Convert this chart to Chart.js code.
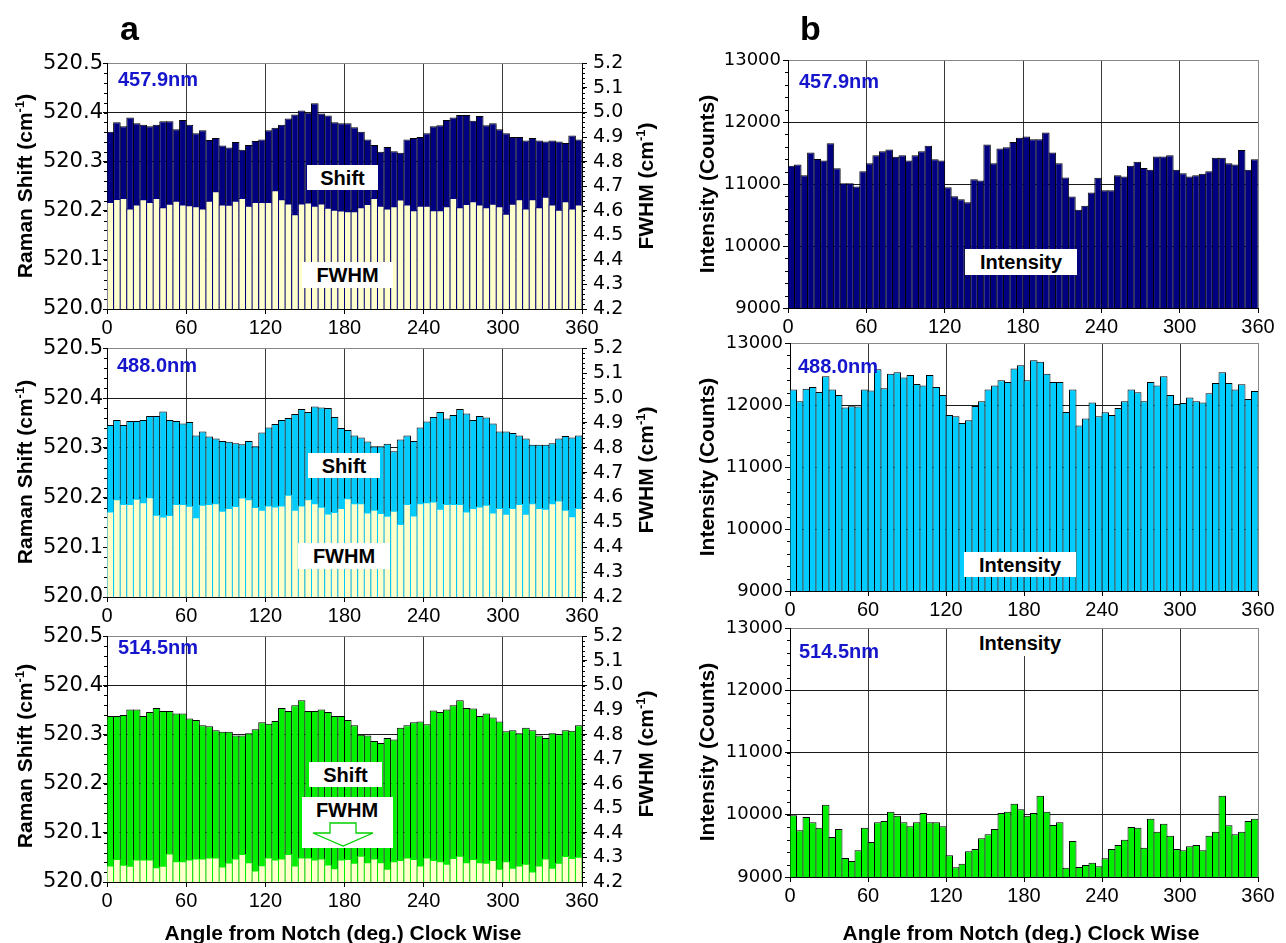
<!DOCTYPE html>
<html>
<head>
<meta charset="utf-8">
<title>Raman shift, FWHM and intensity vs. angle from notch</title>
<script src="https://cdn.jsdelivr.net/npm/chart.js@4/dist/chart.umd.min.js"></script>
<style>
  html, body { margin: 0; padding: 0; background: #fff; }
  #fig { position: relative; width: 1286px; height: 943px; overflow: hidden;
         font-family: "Liberation Sans", Arial, sans-serif; color: #000; }
  .panel { position: absolute; }
  .t { position: absolute; white-space: nowrap; font-weight: bold; line-height: 1; }
  .rot { transform: translate(-50%, -50%) rotate(-90deg); }
  .ctr { transform: translateX(-50%); }
  .box { position: absolute; background: #fff; display: flex; align-items: center;
         justify-content: center; font-weight: bold; font-size: 20px; line-height: 1; }
  .wl { position: absolute; font-weight: bold; font-size: 20px; line-height: 20px; color: #1515cc; white-space: nowrap; }
  sup { font-size: 0.62em; vertical-align: 0.6em; line-height: 0; }
  svg { position: absolute; left: 0; top: 0; pointer-events: none; }
</style>
</head>
<body>
<div id="fig">
  <div class="panel" style="left:0;top:46px;width:690px;height:303px"><canvas id="a1" width="690" height="303"></canvas></div>
  <div class="panel" style="left:0;top:331px;width:690px;height:306px"><canvas id="a2" width="690" height="306"></canvas></div>
  <div class="panel" style="left:0;top:619px;width:690px;height:303px"><canvas id="a3" width="690" height="303"></canvas></div>
  <div class="panel" style="left:680px;top:46px;width:600px;height:302px"><canvas id="b1" width="600" height="302"></canvas></div>
  <div class="panel" style="left:680px;top:329px;width:600px;height:302px"><canvas id="b2" width="600" height="302"></canvas></div>
  <div class="panel" style="left:680px;top:614px;width:600px;height:303px"><canvas id="b3" width="600" height="303"></canvas></div>

  <!-- panel letters -->
  <div class="t" style="left:120px;top:11px;font-size:34px">a</div>
  <div class="t" style="left:800px;top:11px;font-size:34px">b</div>

  <!-- axis titles -->
  <div class="t rot" style="left:24px;top:186px;font-size:21px">Raman Shift (cm<sup>-1</sup>)</div>
  <div class="t rot" style="left:24px;top:472px;font-size:21px">Raman Shift (cm<sup>-1</sup>)</div>
  <div class="t rot" style="left:24px;top:756px;font-size:21px">Raman Shift (cm<sup>-1</sup>)</div>
  <div class="t rot" style="left:645px;top:186px;font-size:21px">FWHM (cm<sup>-1</sup>)</div>
  <div class="t rot" style="left:645px;top:470px;font-size:21px">FWHM (cm<sup>-1</sup>)</div>
  <div class="t rot" style="left:645px;top:754px;font-size:21px">FWHM (cm<sup>-1</sup>)</div>
  <div class="t rot" style="left:706px;top:184px;font-size:21px">Intensity (Counts)</div>
  <div class="t rot" style="left:706px;top:467px;font-size:21px">Intensity (Counts)</div>
  <div class="t rot" style="left:706px;top:752px;font-size:21px">Intensity (Counts)</div>
  <div class="t ctr" style="left:343px;top:922px;font-size:21px">Angle from Notch (deg.) Clock Wise</div>
  <div class="t ctr" style="left:1021px;top:922px;font-size:21px">Angle from Notch (deg.) Clock Wise</div>

  <!-- wavelength tags -->
  <div class="wl" style="left:118px;top:69px">457.9nm</div>
  <div class="wl" style="left:117px;top:355px">488.0nm</div>
  <div class="wl" style="left:118px;top:637px">514.5nm</div>
  <div class="wl" style="left:799px;top:71px">457.9nm</div>
  <div class="wl" style="left:798px;top:356px">488.0nm</div>
  <div class="wl" style="left:799px;top:641px">514.5nm</div>

  <!-- series tags -->
  <div class="box" style="left:307px;top:165px;width:71px;height:25px">Shift</div>
  <div class="box" style="left:302px;top:262px;width:91px;height:26px">FWHM</div>
  <div class="box" style="left:308px;top:453px;width:72px;height:25px">Shift</div>
  <div class="box" style="left:298px;top:543px;width:92px;height:26px">FWHM</div>
  <div class="box" style="left:309px;top:762px;width:73px;height:25px">Shift</div>
  <div class="box" style="left:302px;top:797px;width:91px;height:51px"></div>
  <div class="t ctr" style="left:347px;top:800px;font-size:20px">FWHM</div>
  <div class="box" style="left:965px;top:249px;width:112px;height:26px">Intensity</div>
  <div class="box" style="left:964px;top:552px;width:112px;height:25px">Intensity</div>
  <div class="box" style="left:963px;top:629px;width:114px;height:27px">Intensity</div>

  <svg width="1286" height="943" viewBox="0 0 1286 943">
    <polygon points="330,823 356,823 356,833 373,833 343,846 313,833 330,833"
             fill="#fff" stroke="#00d000" stroke-width="1.3"/>
  </svg>
</div>

<script>
// Bin centres of the 5-degree angular steps round the wafer notch
const angles = Array.from({ length: 72 }, (_, i) => 2.5 + 5 * i);
const angleTicks = [0, 60, 120, 180, 240, 300, 360];
const shiftTicks = [520.0, 520.1, 520.2, 520.3, 520.4, 520.5];
const fwhmTicks = [4.2, 4.3, 4.4, 4.5, 4.6, 4.7, 4.8, 4.9, 5.0, 5.1, 5.2];
const intensityTicks = [9000, 10000, 11000, 12000, 13000];

// Raman shift (cm-1) at 457.9 nm
const shift457 = [520.361, 520.380, 520.372, 520.390, 520.378, 520.375, 520.372, 520.375, 520.382, 520.382, 520.366, 520.385,
  520.375, 520.358, 520.364, 520.344, 520.348, 520.333, 520.329, 520.340, 520.324, 520.334, 520.342, 520.345,
  520.364, 520.369, 520.375, 520.388, 520.396, 520.404, 520.400, 520.419, 520.398, 520.394, 520.380, 520.378,
  520.378, 520.370, 520.361, 520.345, 520.334, 520.320, 520.330, 520.321, 520.318, 520.345, 520.348, 520.350,
  520.358, 520.372, 520.374, 520.385, 520.390, 520.395, 520.395, 520.383, 520.393, 520.374, 520.378, 520.366,
  520.358, 520.350, 520.350, 520.343, 520.348, 520.343, 520.341, 520.343, 520.341, 520.338, 520.353, 520.345];
// FWHM (cm-1) at 457.9 nm
const fwhm457 = [4.636, 4.648, 4.652, 4.609, 4.625, 4.647, 4.636, 4.652, 4.614, 4.629, 4.641, 4.625,
  4.622, 4.618, 4.609, 4.641, 4.679, 4.625, 4.624, 4.641, 4.652, 4.620, 4.636, 4.636,
  4.636, 4.684, 4.647, 4.630, 4.586, 4.630, 4.634, 4.620, 4.630, 4.612, 4.604, 4.601,
  4.598, 4.598, 4.614, 4.628, 4.652, 4.620, 4.609, 4.618, 4.646, 4.625, 4.602, 4.620,
  4.620, 4.602, 4.602, 4.618, 4.652, 4.614, 4.628, 4.639, 4.625, 4.614, 4.629, 4.618,
  4.588, 4.629, 4.647, 4.609, 4.647, 4.614, 4.657, 4.625, 4.604, 4.639, 4.609, 4.625];

// Raman shift (cm-1) at 488.0 nm
const shift488 = [520.346, 520.356, 520.346, 520.354, 520.354, 520.356, 520.364, 520.364, 520.373, 520.356, 520.354, 520.349,
  520.352, 520.325, 520.333, 520.323, 520.319, 520.314, 520.312, 520.309, 520.307, 520.314, 520.303, 520.331,
  520.341, 520.348, 520.356, 520.360, 520.368, 520.378, 520.372, 520.383, 520.381, 520.380, 520.362, 520.340,
  520.336, 520.325, 520.321, 520.313, 520.303, 520.303, 520.308, 520.293, 520.317, 520.325, 520.314, 520.341,
  520.353, 520.362, 520.372, 520.359, 520.366, 520.378, 520.369, 520.356, 520.364, 520.361, 520.349, 520.333,
  520.333, 520.330, 520.325, 520.319, 520.306, 520.306, 520.306, 520.309, 520.319, 520.324, 520.321, 520.325];
// FWHM (cm-1) at 488.0 nm
const fwhm488 = [4.544, 4.593, 4.574, 4.574, 4.595, 4.581, 4.601, 4.531, 4.524, 4.530, 4.574, 4.574,
  4.567, 4.521, 4.571, 4.574, 4.577, 4.547, 4.558, 4.566, 4.600, 4.593, 4.562, 4.551,
  4.568, 4.564, 4.568, 4.611, 4.551, 4.568, 4.593, 4.577, 4.563, 4.536, 4.542, 4.558,
  4.597, 4.577, 4.577, 4.540, 4.551, 4.538, 4.527, 4.547, 4.494, 4.574, 4.528, 4.577,
  4.581, 4.584, 4.555, 4.574, 4.574, 4.574, 4.544, 4.558, 4.564, 4.571, 4.540, 4.558,
  4.535, 4.558, 4.574, 4.535, 4.577, 4.558, 4.555, 4.577, 4.588, 4.551, 4.525, 4.558];

// Raman shift (cm-1) at 514.5 nm
const shift514 = [520.338, 520.338, 520.340, 520.351, 520.351, 520.338, 520.346, 520.354, 520.348, 520.348, 520.343, 520.343,
  520.333, 520.330, 520.319, 520.317, 520.309, 520.306, 520.306, 520.298, 520.298, 520.303, 520.311, 520.325,
  520.322, 520.328, 520.354, 520.348, 520.360, 520.370, 520.348, 520.348, 520.351, 520.346, 520.338, 520.338,
  520.330, 520.319, 520.300, 520.298, 520.287, 520.283, 520.293, 520.290, 520.314, 520.319, 520.325, 520.327,
  520.321, 520.349, 520.346, 520.351, 520.360, 520.370, 520.354, 520.353, 520.338, 520.343, 520.335, 520.327,
  520.307, 520.309, 520.303, 520.314, 520.309, 520.298, 520.293, 520.303, 520.301, 520.309, 520.308, 520.319];
// FWHM (cm-1) at 514.5 nm
const fwhm514 = [4.267, 4.294, 4.270, 4.266, 4.292, 4.292, 4.292, 4.260, 4.266, 4.316, 4.284, 4.284,
  4.292, 4.296, 4.296, 4.300, 4.300, 4.263, 4.279, 4.296, 4.314, 4.280, 4.247, 4.268,
  4.300, 4.292, 4.296, 4.314, 4.267, 4.300, 4.300, 4.292, 4.296, 4.271, 4.256, 4.292,
  4.294, 4.278, 4.307, 4.280, 4.296, 4.280, 4.254, 4.284, 4.290, 4.300, 4.294, 4.267,
  4.300, 4.290, 4.284, 4.274, 4.298, 4.307, 4.280, 4.294, 4.280, 4.278, 4.290, 4.254,
  4.284, 4.258, 4.267, 4.274, 4.243, 4.267, 4.296, 4.258, 4.278, 4.306, 4.298, 4.303];

// Peak intensity (counts)
const int457 = [11293, 11314, 11142, 11507, 11405, 11379, 11658, 11255, 11013, 11013, 10960, 11207,
  11336, 11464, 11529, 11556, 11438, 11464, 11379, 11464, 11529, 11615, 11400, 11379,
  10949, 10804, 10756, 10707, 11078, 11056, 11636, 11336, 11572, 11593, 11679, 11744,
  11765, 11722, 11722, 11830, 11507, 11336, 11105, 10799, 10584, 10648, 10863, 11099,
  10901, 10901, 11142, 11121, 11293, 11357, 11260, 11228, 11443, 11443, 11464, 11228,
  11175, 11121, 11142, 11164, 11207, 11422, 11422, 11336, 11314, 11550, 11228, 11400];
const int488 = [12248, 12060, 12264, 12291, 12211, 12463, 12248, 12162, 11958, 11980, 11975, 12248,
  12232, 12576, 12270, 12506, 12528, 12442, 12485, 12340, 12313, 12485, 12291, 12162,
  11840, 11819, 11711, 11754, 11985, 12060, 12248, 12313, 12399, 12372, 12587, 12640,
  12399, 12721, 12699, 12506, 12372, 12372, 11889, 12248, 11668, 11781, 12039, 11819,
  11883, 11840, 11953, 12060, 12248, 12205, 12060, 12372, 12313, 12463, 12162, 12017,
  12034, 12119, 12060, 12039, 12189, 12356, 12528, 12356, 12248, 12334, 12098, 12227];
const int514 = [9990, 9750, 9964, 9878, 9792, 10162, 9642, 9771, 9305, 9257, 9428, 9792,
  9562, 9878, 9900, 10049, 9985, 9878, 9814, 9878, 10028, 9878, 9878, 9814,
  9348, 9155, 9214, 9412, 9450, 9621, 9685, 9771, 10028, 10049, 10178, 10087,
  9985, 10028, 10306, 10049, 9835, 9878, 9150, 9578, 9161, 9193, 9230, 9171,
  9300, 9450, 9514, 9600, 9803, 9792, 9471, 9937, 9728, 9857, 9664, 9450,
  9428, 9493, 9514, 9428, 9664, 9728, 10306, 9830, 9685, 9728, 9900, 9937];

const NAVY = '#000080', SKY = '#00ccff', LIME = '#00f000', CREAM = '#ffffcc';

// Small unlabelled ticks between the major ones
const minorTicks = {
  id: 'minorTicks',
  afterDraw(chart, args, opts) {
    const ctx = chart.ctx;
    ctx.save();
    ctx.strokeStyle = '#000';
    ctx.lineWidth = 1;
    (opts.items || []).forEach(it => {
      const s = chart.scales[it.scale];
      const n = Math.round((s.max - s.min) / it.step);
      for (let k = 0; k <= n; k++) {
        const p = Math.round(s.getPixelForValue(s.min + k * it.step)) + 0.5;
        ctx.beginPath();
        if (it.side === 'left') { ctx.moveTo(s.right, p); ctx.lineTo(s.right - it.len, p); }
        else { ctx.moveTo(s.left, p); ctx.lineTo(s.left + it.len, p); }
        ctx.stroke();
      }
    });
    ctx.restore();
  }
};
Chart.register(minorTicks);
Chart.defaults.font.family = '"Liberation Sans", Arial, sans-serif';
Chart.defaults.color = '#000';

const pts = vals => vals.map((v, i) => ({ x: angles[i], y: v }));
const fixTicks = list => s => { s.ticks = list.map(v => ({ value: v })); };

function angleScale() {
  return {
    type: 'linear', min: 0, max: 360, offset: false,
    afterBuildTicks: fixTicks(angleTicks),
    afterFit: s => { s.height = 40; },
    grid: {
      offset: false, lineWidth: 1, tickLength: 5, tickColor: '#000',
      color: c => (c.tick && c.tick.value === 360) ? '#888' : (c.tick && c.tick.value === 0 ? '#000' : '#3a3a3a')
    },
    border: { display: true, color: '#000' },
    ticks: { font: { size: 20 }, color: '#000', padding: 2, maxRotation: 0, autoSkip: false,
             callback: v => String(v) }
  };
}

const barStyle = { grouped: false, barPercentage: 1.15, categoryPercentage: 1, borderWidth: 1 };

function shiftPanel(id, shift, fwhm, color) {
  new Chart(document.getElementById(id), {
    type: 'bar',
    data: {
      datasets: [
        Object.assign({ label: 'FWHM', data: pts(fwhm), yAxisID: 'y2', backgroundColor: CREAM, borderColor: color }, barStyle),
        Object.assign({ label: 'Shift', data: pts(shift), yAxisID: 'y', backgroundColor: color, borderColor: '#000' }, barStyle)
      ]
    },
    options: {
      responsive: false, animation: false, events: [],
      layout: { padding: { top: 14, left: 0, right: 0, bottom: 0 } },
      plugins: {
        legend: { display: false }, tooltip: { enabled: false },
        minorTicks: { items: [
          { scale: 'y', step: 0.02, len: 3, side: 'left' },
          { scale: 'y2', step: 0.02, len: 3, side: 'right' }
        ] }
      },
      scales: {
        x: angleScale(),
        y: {
          type: 'linear', position: 'left', min: 520, max: 520.5,
          afterBuildTicks: fixTicks(shiftTicks),
          afterFit: s => { s.width = 107; },
          grid: { lineWidth: 1, tickLength: 4, tickColor: '#000',
                  color: c => (c.tick && c.tick.value >= 520.5) ? '#888' : '#1a1a1a' },
          border: { display: true, color: '#000' },
          ticks: { font: { family: 'DejaVu Sans', size: 21 }, color: '#000', padding: 0, autoSkip: false,
                   callback: v => Number(v).toFixed(1) }
        },
        y2: {
          type: 'linear', position: 'right', min: 4.2, max: 5.2,
          afterBuildTicks: fixTicks(fwhmTicks),
          afterFit: s => { s.width = 108; },
          grid: { drawOnChartArea: false, tickLength: 5, tickColor: '#000' },
          border: { display: true, color: '#000' },
          ticks: { font: { family: 'DejaVu Sans', size: 19 }, color: '#000', padding: 6, autoSkip: false,
                   callback: v => Number(v).toFixed(1) }
        }
      }
    }
  });
}

function intensityPanel(id, counts, color, axisWidth) {
  new Chart(document.getElementById(id), {
    type: 'bar',
    data: {
      datasets: [
        Object.assign({ label: 'Intensity', data: pts(counts), backgroundColor: color, borderColor: '#000' }, barStyle)
      ]
    },
    options: {
      responsive: false, animation: false, events: [],
      layout: { padding: { top: 14, left: 0, right: 22, bottom: 0 } },
      plugins: {
        legend: { display: false }, tooltip: { enabled: false },
        minorTicks: { items: [{ scale: 'y', step: 200, len: 3, side: 'left' }] }
      },
      scales: {
        x: angleScale(),
        y: {
          type: 'linear', position: 'left', min: 9000, max: 13000,
          afterBuildTicks: fixTicks(intensityTicks),
          afterFit: s => { s.width = axisWidth; },
          grid: { lineWidth: 1, tickLength: 5, tickColor: '#000',
                  color: c => (c.tick && c.tick.value >= 13000) ? '#888' : '#1a1a1a' },
          border: { display: true, color: '#000' },
          ticks: { font: { family: 'DejaVu Sans', size: 18 }, color: '#000', padding: 2, autoSkip: false,
                   callback: v => String(Math.round(v)) }
        }
      }
    }
  });
}

shiftPanel('a1', shift457, fwhm457, NAVY);
shiftPanel('a2', shift488, fwhm488, SKY);
shiftPanel('a3', shift514, fwhm514, LIME);
intensityPanel('b1', int457, NAVY, 108);
intensityPanel('b2', int488, SKY, 110);
intensityPanel('b3', int514, LIME, 110);
</script>
</body>
</html>
